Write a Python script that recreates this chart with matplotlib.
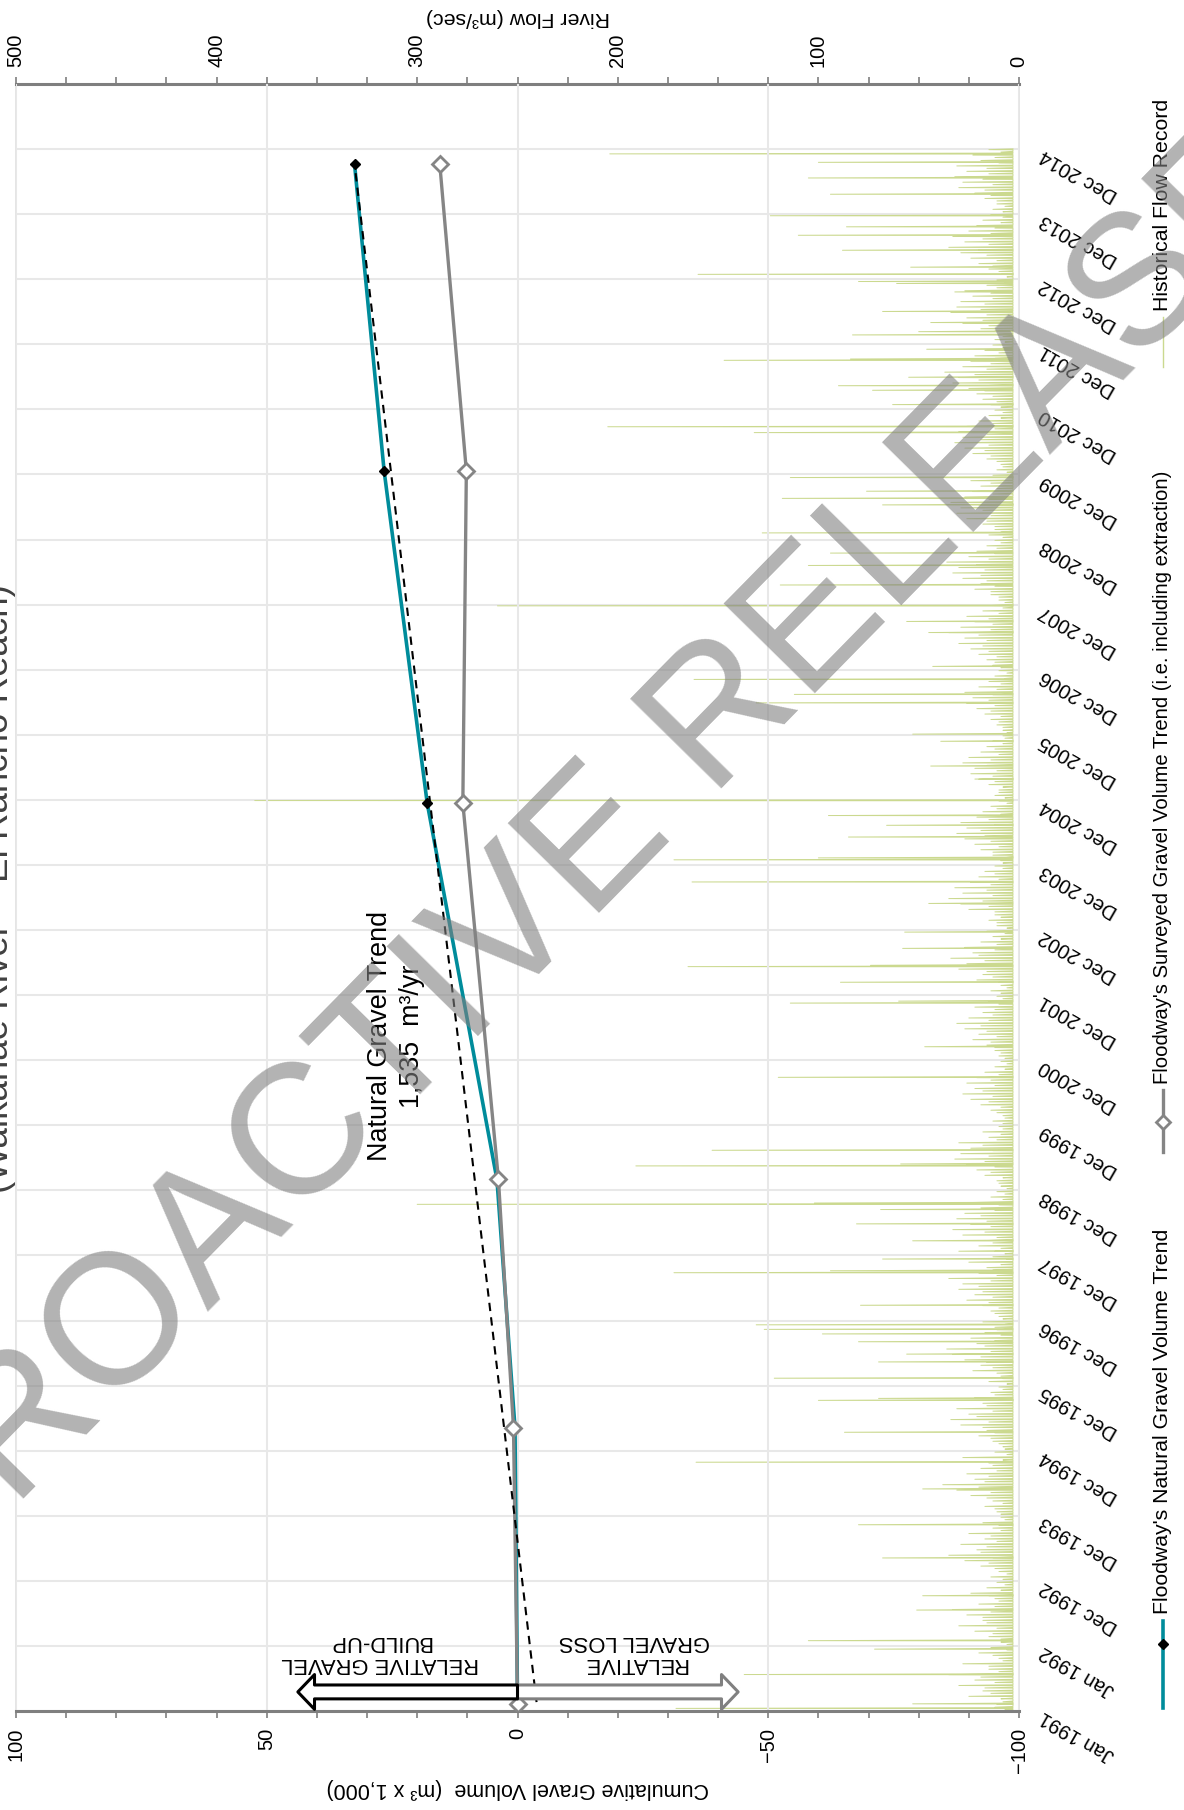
import numpy as np
import pandas as pd
import matplotlib
matplotlib.use('Agg')
import matplotlib.pyplot as plt
from matplotlib.lines import Line2D

plt.rcParams['font.family'] = ['Liberation Sans', 'DejaVu Sans']

W, H = 1184, 1810
START = np.datetime64('1991-01-01')

# gravel volumes (m3 x 1,000)
survey_dates = ['1991-02-10', '1995-05-10', '1999-03-01', '2004-12-09', '2010-01-17', '2014-10-04']
surveyed_vol = [0.0, 0.8, 3.8, 10.9, 10.2, 15.5]
natural_vol = [0.0, 0.5, 4.1, 18.0, 26.6, 32.5]
trend_dates = ['1991-02-20', '2014-10-04']
trend_vol = [-3.8, 32.5]

# flood peaks (decimal year, m3/s)
peak_years = [1991.04, 1991.11, 1991.56, 1991.95, 1992.08, 1992.55, 1992.77, 1993.35,
              1993.86, 1994.41, 1994.82, 1995.28, 1995.77, 1995.80, 1996.11, 1996.36,
              1996.48, 1996.67, 1996.79, 1996.86, 1996.93, 1997.23, 1997.73, 1997.76,
              1997.94, 1998.06, 1998.22, 1998.48, 1998.70, 1998.78, 1998.80, 1999.37,
              1999.40, 1999.61, 2000.73, 2001.20, 2001.87, 2001.90, 2002.19, 2002.43,
              2002.45, 2002.71, 2002.96, 2003.40, 2003.73, 2004.07, 2004.10, 2004.42,
              2004.60, 2004.75, 2004.98, 2005.31, 2005.51, 2005.89, 2006.00, 2006.48,
              2006.61, 2006.84, 2007.04, 2007.56, 2007.73, 2007.97, 2008.29, 2008.59,
              2008.78, 2009.09, 2009.52, 2009.62, 2009.73, 2009.94, 2010.63, 2010.72,
              2011.06, 2011.28, 2011.35, 2011.48, 2011.74, 2011.76, 2011.91, 2012.13,
              2012.18, 2012.32, 2012.49, 2012.79, 2012.92, 2012.95, 2013.06, 2013.17,
              2013.43, 2013.66, 2013.79, 2013.96, 2014.29, 2014.54, 2014.78, 2014.91]
peak_flows = [171, 53, 137, 72, 105, 51, 48, 68,
              80, 48, 161, 87, 100, 70, 122, 70,
              56, 80, 98, 127, 131, 79, 172, 94,
              68, 30, 53, 81, 69, 300, 102, 191,
              59, 153, 120, 47, 114, 60, 89, 165,
              74, 58, 57, 45, 163, 172, 100, 85,
              66, 95, 381, 22, 44, 39, 53, 131,
              112, 162, 43, 45, 56, 260, 119, 105,
              94, 128, 68, 118, 76, 114, 132, 205,
              63, 73, 90, 55, 147, 84, 46, 83,
              50, 44, 68, 32, 61, 80, 160, 54,
              88, 110, 86, 124, 94, 105, 100, 204]

# smaller freshes, early and late in each month (m3/s)
minor_flows_a = [
    [12, 8, 25, 18, 30, 22, 35, 15, 28, 10, 20, 14],
    [9, 15, 22, 30, 18, 26, 33, 20, 12, 24, 16, 11],
    [14, 10, 19, 27, 35, 21, 29, 17, 25, 13, 18, 9],
    [11, 17, 13, 24, 31, 38, 22, 26, 19, 15, 28, 12],
    [8, 13, 20, 16, 29, 34, 25, 31, 18, 22, 14, 10],
    [15, 9, 23, 19, 27, 33, 36, 21, 24, 17, 12, 18],
    [10, 14, 18, 26, 22, 30, 28, 35, 20, 16, 25, 13],
    [12, 20, 15, 28, 33, 24, 31, 27, 19, 23, 14, 11],
    [9, 11, 17, 21, 26, 32, 29, 24, 30, 15, 18, 10],
    [13, 8, 14, 19, 24, 28, 22, 26, 21, 17, 12, 9],
    [10, 12, 16, 23, 20, 27, 31, 25, 18, 22, 15, 11],
    [14, 9, 21, 18, 30, 26, 34, 23, 27, 19, 13, 16],
    [11, 15, 12, 25, 29, 35, 28, 32, 24, 20, 17, 12],
    [9, 13, 19, 22, 27, 31, 26, 29, 21, 18, 14, 10],
    [12, 10, 15, 20, 24, 22, 28, 25, 19, 16, 13, 8],
    [8, 11, 14, 17, 21, 26, 23, 27, 20, 15, 12, 10],
    [13, 16, 20, 24, 30, 27, 35, 29, 22, 26, 18, 14],
    [10, 14, 22, 19, 28, 33, 30, 36, 25, 21, 16, 12],
    [15, 12, 18, 26, 31, 29, 34, 27, 23, 19, 24, 13],
    [11, 9, 16, 23, 27, 32, 28, 30, 26, 20, 15, 12],
    [14, 18, 21, 25, 33, 30, 37, 28, 24, 22, 17, 13],
    [12, 10, 19, 28, 26, 34, 31, 29, 23, 27, 16, 11],
    [9, 15, 20, 24, 29, 35, 27, 33, 25, 21, 18, 14],
    [13, 11, 17, 22, 30, 28, 32, 26, 31, 19, 23, 15],
]
minor_flows_b = [
    [7, 11, 9, 14, 17, 12, 19, 10, 15, 8, 13, 6],
    [6, 9, 13, 11, 16, 18, 14, 12, 10, 15, 9, 7],
    [8, 6, 12, 15, 13, 19, 16, 11, 14, 9, 10, 7],
    [9, 12, 8, 16, 14, 20, 17, 15, 11, 13, 8, 6],
    [7, 10, 14, 12, 18, 15, 21, 13, 16, 10, 12, 8],
    [6, 8, 11, 13, 16, 19, 14, 17, 12, 9, 11, 7],
    [8, 12, 10, 15, 13, 18, 20, 14, 11, 13, 9, 6],
    [7, 9, 13, 11, 17, 14, 16, 19, 12, 10, 8, 7],
    [6, 10, 8, 14, 12, 17, 15, 13, 18, 11, 9, 8],
    [8, 7, 11, 9, 15, 13, 18, 12, 14, 10, 7, 6],
    [7, 9, 12, 14, 11, 16, 19, 15, 13, 12, 10, 8],
    [9, 6, 10, 13, 16, 14, 17, 20, 12, 11, 9, 7],
    [6, 11, 9, 12, 15, 18, 13, 16, 14, 10, 12, 8],
    [8, 7, 13, 10, 14, 17, 19, 12, 15, 9, 11, 6],
    [7, 10, 8, 12, 13, 11, 16, 14, 10, 12, 8, 7],
    [6, 8, 10, 9, 14, 12, 15, 13, 11, 9, 7, 6],
    [9, 12, 11, 15, 18, 16, 20, 14, 13, 15, 10, 8],
    [7, 10, 14, 12, 16, 19, 17, 21, 15, 12, 11, 9],
    [8, 9, 12, 16, 14, 18, 20, 15, 13, 11, 14, 7],
    [6, 8, 11, 14, 17, 15, 19, 16, 12, 13, 9, 8],
    [9, 11, 13, 17, 15, 20, 22, 16, 14, 12, 10, 8],
    [7, 8, 12, 15, 18, 16, 19, 17, 13, 14, 11, 7],
    [6, 10, 13, 11, 16, 20, 15, 18, 14, 12, 9, 8],
    [8, 7, 11, 14, 17, 13, 18, 15, 16, 10, 12, 9],
]
minor_start_year = 1991
base_flow = 3.0

gravel_ticks = [100, 50, 0, -50, -100]
flow_ticks = [500, 400, 300, 200, 100, 0]

def yr2date(y):
  days = (np.asarray(y, dtype=float) - 1991.0) * 365.25
  return START + (days * 24).astype(int).astype('timedelta64[h]')

def px(x, y):
  return x / W, 1 - y / H

# build the flow trace from the peaks
ev_t = list(peak_years)
ev_q = list(peak_flows)
for i in range(len(minor_flows_a)):
  for m in range(12):
    ev_t.append(minor_start_year + i + (m + 0.7) / 12.)
    ev_q.append(minor_flows_a[i][m])
    ev_t.append(minor_start_year + i + (m + 0.25) / 12.)
    ev_q.append(minor_flows_b[i][m])
ev = sorted(zip(ev_t, ev_q))
t_pts, q_pts = [], []
for t, q in ev:
  t_pts += [t - 0.003, t, t + 0.012]
  q_pts += [base_flow, q, base_flow]
flow_dates = yr2date(t_pts)

fig = plt.figure(figsize=(W / 100, H / 100), dpi=100)
rect = [16 / W, 1 - 1711 / H, 1003 / W, 1627 / H]

# flow axis (underneath)
axf = fig.add_axes(rect)
axf.plot(q_pts, flow_dates, color='#cbd98f', lw=0.7)
axf.set_xlim(500, 0)
ymin = START
ymax = START + np.timedelta64(9125, 'D')
axf.set_ylim(ymin, ymax)
axf.xaxis.tick_top()
axf.set_xticks(flow_ticks)
axf.set_xticks(np.arange(0, 501, 25), minor=True)
axf.tick_params(axis='x', which='both', direction='out', length=5, width=1.2,
                color='#7f7f7f', labelsize=14.5, labelrotation=90, pad=7)
tick_dates = START + np.arange(25) * np.timedelta64(365, 'D')
tick_labels = pd.to_datetime(tick_dates).strftime('%b %Y')
axf.set_yticks(tick_dates)
axf.set_yticklabels(tick_labels)
axf.yaxis.tick_right()
axf.tick_params(axis='y', length=0, pad=18, labelsize=14.5)
for lab in axf.get_yticklabels():
  lab.set_rotation(150)
  lab.set_ha('right')
  lab.set_va('baseline')
  lab.set_rotation_mode('anchor')
axf.yaxis.grid(True, color='#e8e8e8', lw=1.5)
axf.set_axisbelow(True)
for s in ['left', 'right']:
  axf.spines[s].set_color('#e0e0e0')
  axf.spines[s].set_linewidth(1.2)
axf.spines['top'].set_color('#7f7f7f')
axf.spines['top'].set_linewidth(2.2)
axf.spines['bottom'].set_visible(False)

# gravel axis (on top)
ax = fig.add_axes(rect, sharey=axf)
ax.patch.set_visible(False)
ax.set_xlim(100, -100)
ax.set_xticks(gravel_ticks)
ax.set_xticks(np.arange(-100, 101, 10), minor=True)
ax.tick_params(axis='x', which='both', direction='out', length=5, width=1.2,
               color='#7f7f7f', labelsize=14.5, labelrotation=90, pad=7)
ax.xaxis.grid(True, color='#e8e8e8', lw=1.5)
ax.yaxis.set_visible(False)
for s in ['left', 'right', 'top']:
  ax.spines[s].set_visible(False)
ax.spines['bottom'].set_color('#7f7f7f')
ax.spines['bottom'].set_linewidth(2.2)
ax.axvline(0, color='#7f7f7f', lw=1.2, zorder=1.5)

sd = np.array(survey_dates, dtype='datetime64[D]')
ax.plot(natural_vol, sd, color='#008c9b', lw=2.6, marker='D', ms=5,
        mfc='k', mec='k', zorder=3)
ax.plot(surveyed_vol, sd, color='#858585', lw=2.4, marker='D', ms=8,
        mfc='white', mec='#858585', mew=2, zorder=4)
ax.plot(trend_vol, np.array(trend_dates, dtype='datetime64[D]'), color='k',
        lw=1.5, ls=(0, (4, 3)), zorder=5)

# build-up / loss arrows
ay = START + np.timedelta64(107, 'D')
ax.annotate('', xy=(-44, ay), xytext=(0, ay),
            arrowprops=dict(arrowstyle='simple,head_length=1.2,head_width=2.5,tail_width=1.0',
                            mutation_scale=10, fc='white', ec='#808080', lw=2.2,
                            shrinkA=0, shrinkB=0), zorder=6)
ax.annotate('', xy=(43.8, ay), xytext=(0, ay),
            arrowprops=dict(arrowstyle='simple,head_length=1.2,head_width=2.5,tail_width=1.0',
                            mutation_scale=10, fc='white', ec='k', lw=2.2,
                            shrinkA=0, shrinkB=0), zorder=7)
ty = START + np.timedelta64(330, 'D')
ax.text(27.4, ty, 'RELATIVE GRAVEL\nBUILD-UP', rotation=180, ha='center', va='center',
        multialignment='center', fontsize=15.8, linespacing=1.05)
ax.text(-23.4, ty, 'RELATIVE\nGRAVEL LOSS', rotation=180, ha='center', va='center',
        multialignment='center', fontsize=15.8, linespacing=1.05)
ax.text(24.2, START + np.timedelta64(3786, 'D'), 'Natural Gravel Trend\n1,535  m³/yr',
        rotation=90, ha='center', va='center', multialignment='center',
        fontsize=19.4, linespacing=1.3, zorder=8)

# axis titles
fig.text(*px(518, 1788), 'Cumulative Gravel Volume  (m³ x 1,000)', rotation=180,
         ha='center', va='center', fontsize=15.5)
fig.text(*px(518, 18), 'River Flow (m³/sec)', rotation=180, ha='center', va='center',
         fontsize=15.3)

# cropped title
fig.text(*px(8, 889), '(Waikanae River – El Rancho Reach)', rotation=90, ha='center',
         va='baseline', rotation_mode='anchor', fontsize=26.5, color='#404040')

# legend, drawn by hand since it is rotated
lx = 1163
fig.add_artist(Line2D([lx / W] * 2, [1 - 1708 / H, 1 - 1621 / H], color='#008c9b', lw=2.6))
fig.add_artist(Line2D([lx / W], [1 - 1644 / H], marker='D', ms=5, color='k', ls='none'))
fig.text(*px(lx, 1614), "Floodway's Natural Gravel Volume Trend", rotation=90,
         ha='left', va='center', rotation_mode='anchor', fontsize=15.3)
fig.add_artist(Line2D([lx / W] * 2, [1 - 1152 / H, 1 - 1090 / H], color='#858585', lw=2.4))
fig.add_artist(Line2D([lx / W], [1 - 1122 / H], marker='D', ms=7, mfc='white',
                      mec='#858585', mew=2, ls='none'))
fig.text(*px(lx, 1084), "Floodway's Surveyed Gravel Volume Trend (i.e. including extraction)",
         rotation=90, ha='left', va='center', rotation_mode='anchor', fontsize=14.6)
fig.add_artist(Line2D([lx / W] * 2, [1 - 367 / H, 1 - 317 / H], color='#cbd98f', lw=1))
fig.text(*px(lx, 311), 'Historical Flow Record', rotation=90, ha='left', va='center',
         rotation_mode='anchor', fontsize=15.3)

# watermark
fig.text(*px(532, 982), 'RETROACTIVE RELEASE', rotation=45.5, ha='center', va='baseline',
         rotation_mode='anchor', fontsize=133, color='#808080', alpha=0.6, zorder=10)

fig.savefig('out.png', dpi=100)
